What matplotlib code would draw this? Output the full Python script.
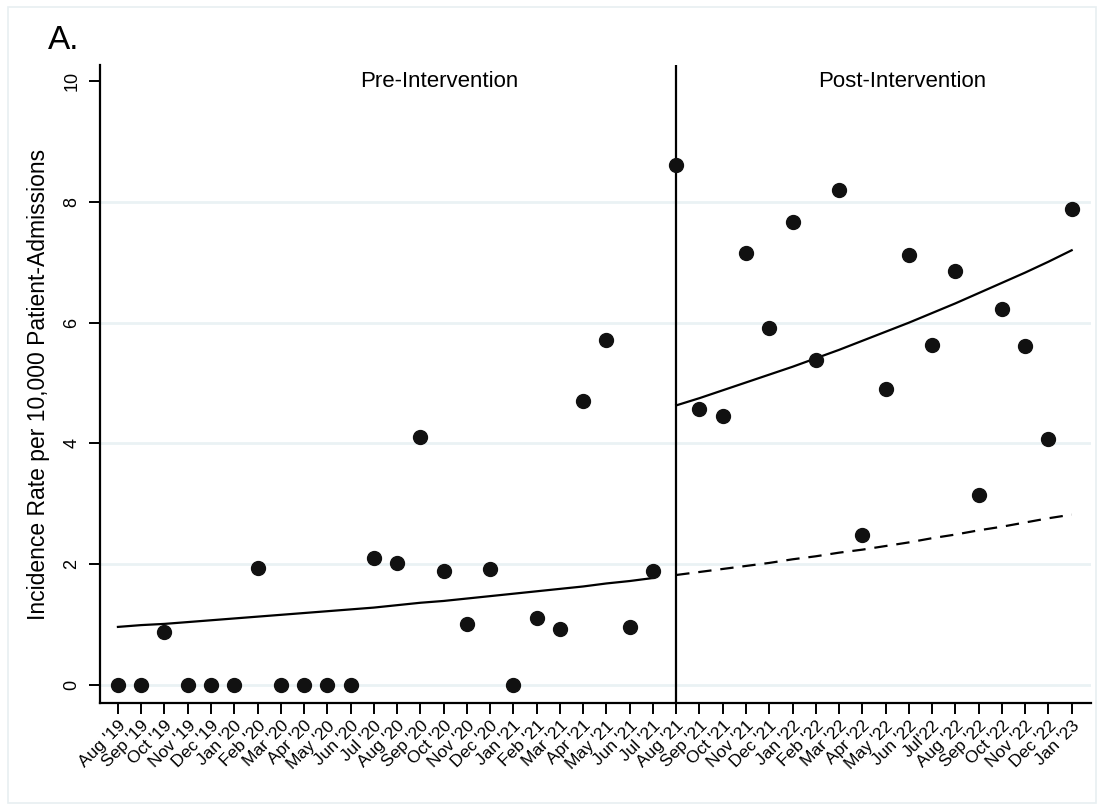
import matplotlib
matplotlib.use('Agg')
import matplotlib.pyplot as plt
from matplotlib.patches import Rectangle
import numpy as np

plt.rcParams['font.family'] = ['Liberation Sans', 'DejaVu Sans']

months = ["Aug '19", "Sep '19", "Oct '19", "Nov '19", "Dec '19", "Jan '20", "Feb '20",
          "Mar '20", "Apr '20", "May '20", "Jun '20", "Jul '20", "Aug '20", "Sep '20",
          "Oct '20", "Nov '20", "Dec '20", "Jan '21", "Feb '21", "Mar '21", "Apr '21",
          "May '21", "Jun '21", "Jul '21", "Aug '21", "Sep '21", "Oct '21", "Nov '21",
          "Dec '21", "Jan '22", "Feb '22", "Mar '22", "Apr '22", "May '22", "Jun '22",
          "Jul'22", "Aug '22", "Sep '22", "Oct '22", "Nov '22", "Dec '22", "Jan '23"]

rate = [0, 0, 0.88, 0, 0, 0, 1.94, 0, 0, 0, 0, 2.10, 2.02, 4.11, 1.89, 1.01, 1.92, 0,
        1.11, 0.93, 4.70, 5.71, 0.96, 1.89,
        8.61, 4.57, 4.45, 7.15, 5.91, 7.67, 5.38, 8.20, 2.48, 4.90, 7.12, 5.63, 6.85,
        3.15, 6.23, 5.62, 4.07, 7.89]

# fitted trend (pre), fitted trend (post), counterfactual (post)
pre_fit = [0.96, 0.99, 1.01, 1.04, 1.07, 1.10, 1.13, 1.16, 1.19, 1.22, 1.25, 1.28,
           1.32, 1.36, 1.39, 1.43, 1.47, 1.51, 1.55, 1.59, 1.63, 1.68, 1.72, 1.77]
post_fit = [4.63, 4.75, 4.88, 5.01, 5.14, 5.27, 5.41, 5.55, 5.70, 5.85, 6.00, 6.16,
            6.32, 6.49, 6.66, 6.83, 7.01, 7.20]
post_cf = [1.82, 1.87, 1.92, 1.97, 2.02, 2.08, 2.13, 2.19, 2.24, 2.30, 2.36, 2.43,
           2.49, 2.56, 2.62, 2.69, 2.76, 2.82]

x = np.arange(len(months))
x_pre = x[:len(pre_fit)]
x_post = x[len(pre_fit):]
cut = len(pre_fit)

fig = plt.figure(figsize=(11.04, 8.08), dpi=100)
fig.patches.append(Rectangle((0.007, 0.006), 0.986, 0.985, transform=fig.transFigure,
                             fill=False, edgecolor='#e8eff1', linewidth=1.2))
ax = fig.add_axes([0.0906, 0.13, 0.8974, 0.7896])

for g in [0, 2, 4, 6, 8]:
    ax.axhline(g, color='#eaf2f4', lw=2, zorder=0)

ax.plot(x, rate, 'o', color='#111111', markersize=10, zorder=3)
ax.plot(x_pre, pre_fit, '-', color='black', lw=1.6)
ax.plot(x_post, post_fit, '-', color='black', lw=1.6)
ax.plot(x_post, post_cf, '--', color='black', lw=1.6, dashes=(6, 4))
ax.axvline(cut, color='black', lw=1.6, zorder=2)

ax.set_xlim(-0.77, 41.82)
ax.set_ylim(-0.3, 10.27)
ax.set_xticks(x)
ax.set_xticklabels(months, rotation=45, ha='right', rotation_mode='anchor', fontsize=12.5)
ax.set_yticks([0, 2, 4, 6, 8, 10])
ax.set_yticklabels(['0', '2', '4', '6', '8', '10'], rotation=90, va='center', fontsize=13)
ax.tick_params(axis='both', direction='out', length=8, width=1.4, color='black')
ax.tick_params(axis='x', pad=3)
ax.tick_params(axis='y', pad=6)

for s in ['top', 'right']:
    ax.spines[s].set_visible(False)
for s in ['left', 'bottom']:
    ax.spines[s].set_linewidth(1.6)

ax.set_ylabel('Incidence Rate per 10,000 Patient-Admissions', fontsize=16.5, labelpad=10)

ax.text(13.8, 10.0, 'Pre-Intervention', ha='center', va='center', fontsize=16)
ax.text(33.7, 10.0, 'Post-Intervention', ha='center', va='center', fontsize=16)
fig.text(0.043, 0.95, 'A.', fontsize=24, ha='left', va='center')

fig.savefig('out.png', dpi=100)
